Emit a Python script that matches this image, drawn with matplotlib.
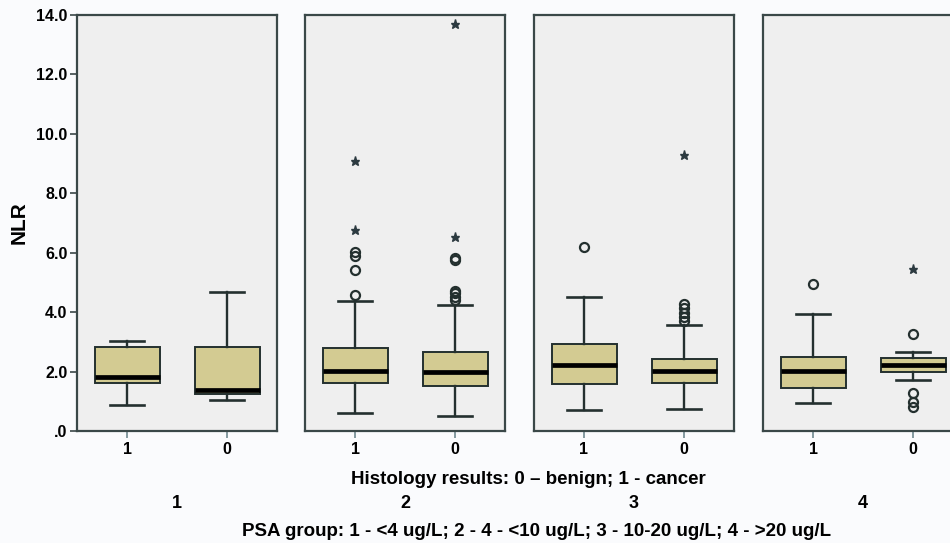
# nlr_boxplots.py
# NLR by histology result, split into four PSA groups (SPSS-style panel boxplot).

import numpy as np
import matplotlib
matplotlib.use("Agg")
import matplotlib.pyplot as plt
from matplotlib.ticker import FixedLocator

plt.rcParams['font.family'] = ['Liberation Sans', 'DejaVu Sans']

psa_groups = ['1', '2', '3', '4']
histology = ['1', '0']

# five-number summaries per panel, order: [histology 1, histology 0]
whisker_low = [[0.88, 1.04], [0.59, 0.52], [0.71, 0.73], [0.93, 1.72]]
q1 = [[1.61, 1.25], [1.63, 1.51], [1.58, 1.61], [1.44, 1.98]]
median = [[1.81, 1.38], [2.02, 2.00], [2.22, 2.02], [2.02, 2.22]]
q3 = [[2.84, 2.82], [2.78, 2.65], [2.92, 2.41], [2.50, 2.45]]
whisker_high = [[3.04, 4.68], [4.39, 4.24], [4.52, 3.57], [3.93, 2.67]]

# outliers (circles) and extremes (stars)
outliers = [
    [[], []],
    [[4.58, 5.42, 5.89, 6.04], [4.41, 4.52, 4.63, 4.72, 5.76, 5.81]],
    [[6.20], [3.71, 3.85, 3.98, 4.13, 4.27]],
    [[4.94], [3.25, 1.27, 0.99, 0.80]],
]
extremes = [
    [[], []],
    [[6.77, 9.08], [6.54, 13.7]],
    [[], [9.29]],
    [[], [5.44]],
]

yticks = [0, 2, 4, 6, 8, 10, 12, 14]
ytick_labels = ['.0', '2.0', '4.0', '6.0', '8.0', '10.0', '12.0', '14.0']

box_fill = '#d3cb92'
edge = '#24302f'
panel_bg = '#efefef'

fig = plt.figure(figsize=(9.5, 5.43), dpi=100)
fig.patch.set_facecolor('#fafbfd')

lefts = [77, 305, 534, 763]
pw, bottom_px, top_px = 200, 431, 15
W, H = 950, 543
positions = [1, 3]

for i, g in enumerate(psa_groups):
    ax = fig.add_axes([lefts[i] / W, 1 - bottom_px / H, pw / W, (bottom_px - top_px) / H])
    ax.set_facecolor(panel_bg)
    stats = []
    for j in range(2):
        stats.append(dict(med=median[i][j], q1=q1[i][j], q3=q3[i][j],
                          whislo=whisker_low[i][j], whishi=whisker_high[i][j],
                          fliers=[]))
    ax.bxp(stats, positions=positions, widths=1.3, patch_artist=True,
           showfliers=False,
           boxprops=dict(facecolor=box_fill, edgecolor=edge, linewidth=1.4),
           medianprops=dict(color='black', linewidth=3.4, solid_capstyle='butt'),
           whiskerprops=dict(color=edge, linewidth=1.7),
           capprops=dict(color=edge, linewidth=1.9), capwidths=0.68)
    for j in range(2):
        if outliers[i][j]:
            ax.plot([positions[j]] * len(outliers[i][j]), outliers[i][j], 'o',
                    ms=6.5, mfc='none', mec=edge, mew=1.6, zorder=4)
        if extremes[i][j]:
            ax.plot([positions[j]] * len(extremes[i][j]), extremes[i][j], '*',
                    ms=6.5, color='#2c3a40', zorder=4)
    ax.set_xlim(0, 4)
    ax.set_ylim(0, 14)
    ax.set_xticks(positions)
    ax.set_xticklabels(histology, fontsize=11.5, fontweight='bold')
    ax.tick_params(axis='x', length=5, width=1.2, color='#6f8a90', pad=3)
    for s in ax.spines.values():
        s.set_color('#3a4848')
        s.set_linewidth(1.6)
    if i == 0:
        ax.yaxis.set_major_locator(FixedLocator(yticks))
        ax.set_yticklabels(ytick_labels, fontsize=11.5, fontweight='bold')
        ax.tick_params(axis='y', length=5, width=1.2, color='#3a4848', pad=2)
        ax.set_ylabel('NLR', fontsize=15, fontweight='bold', labelpad=5)
    else:
        ax.set_yticks([])
    # PSA group number under each panel
    fig.text((lefts[i] + pw / 2) / W, 1 - 503 / H, g, ha='center', va='center',
             fontsize=13, fontweight='bold')

fig.text(528 / W, 1 - 480 / H, 'Histology results: 0 \u2013 benign; 1 - cancer',
         ha='center', va='center', fontsize=13.5, fontweight='bold')
fig.text(537 / W, 1 - 532 / H, 'PSA group: 1 - <4 ug/L; 2 - 4 - <10 ug/L; 3 - 10-20 ug/L; 4 - >20 ug/L',
         ha='center', va='center', fontsize=13.5, fontweight='bold')

fig.savefig('out.png', dpi=100, facecolor=fig.get_facecolor())
